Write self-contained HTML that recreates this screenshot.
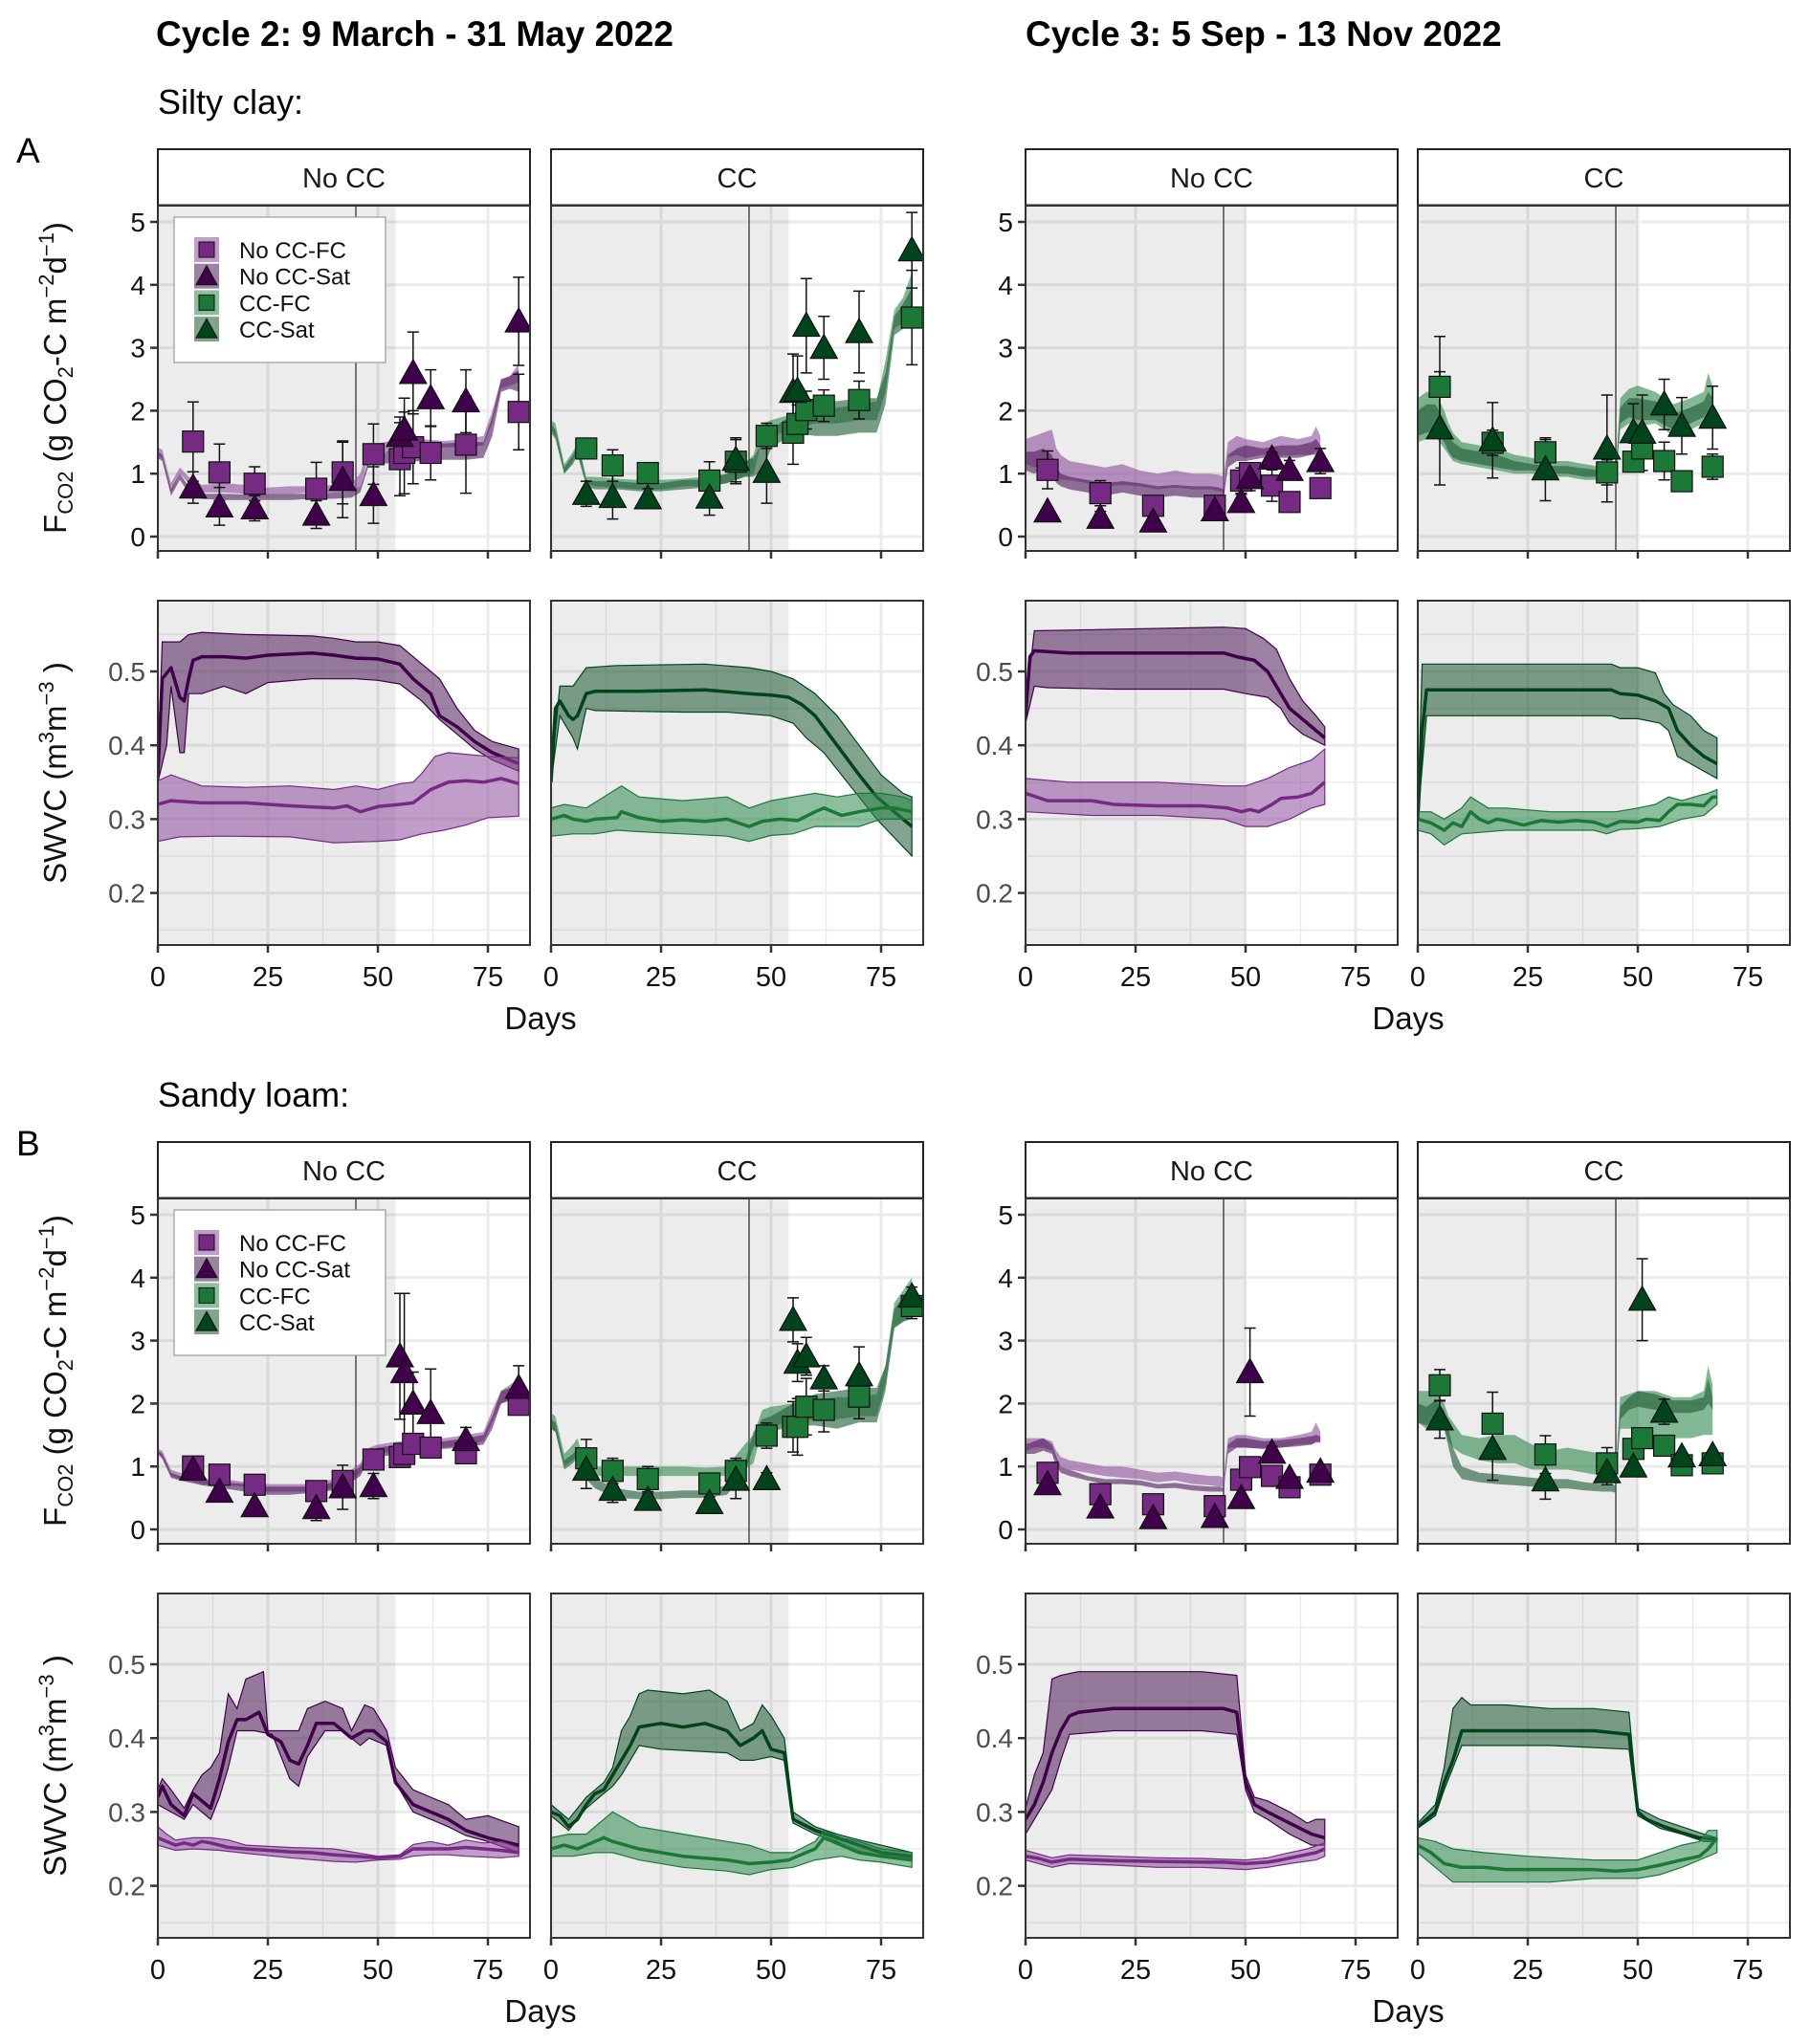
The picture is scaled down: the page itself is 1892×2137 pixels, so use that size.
<!DOCTYPE html>
<html><head><meta charset="utf-8"><title>CO2 flux and SWVC</title>
<style>
html,body{margin:0;padding:0;background:#fff;}
svg{display:block;font-family:"Liberation Sans",Arial,sans-serif;}
</style></head>
<body>
<svg id="fig" xmlns="http://www.w3.org/2000/svg" width="1892" height="2137" viewBox="0 0 1892 2137">
<rect x="0" y="0" width="1892" height="2137" fill="#fff"/>
<text x="163" y="48" font-size="37" font-weight="bold">Cycle 2: 9 March - 31 May 2022</text>
<text x="1072" y="48" font-size="37" font-weight="bold">Cycle 3: 5 Sep - 13 Nov 2022</text>
<text x="165" y="119" font-size="36">Silty clay:</text>
<text x="17" y="170" font-size="37">A</text>
<text x="165" y="1157" font-size="36">Sandy loam:</text>
<text x="17" y="1208" font-size="37">B</text>
<g id="plots"></g>
</svg>
<script>
// ---------------- FCO2 measured points ----------------
const daysC2 = [8,14,22,36,42,49,55,56,58,62,70,82];
const daysC3 = [5,17,29,43,49,51,56,60,67];
const a1FcVal = [1.51,1.02,0.84,0.76,1.02,1.31,1.23,1.33,1.42,1.33,1.46,1.98];
const a1FcErr = [0.63,0.45,0.27,0.42,0.5,0.48,0.58,0.65,0.58,0.43,0.77,0.6];
const a1SatVal = [0.78,0.48,0.45,0.35,0.9,0.66,1.6,1.7,2.6,2.2,2.15,3.42];
const a1SatErr = [0.25,0.3,0.2,0.22,0.6,0.45,0.3,0.5,0.65,0.45,0.5,0.7];
const a2FcVal = [1.40,1.13,1.01,0.89,1.19,1.6,1.65,1.79,2.01,2.08,2.17,3.48];
const a2FcErr = [0.05,0.25,0.15,0.3,0.35,0.2,0.5,0.3,0.3,0.25,0.3,0.75];
const a2SatVal = [0.68,0.63,0.61,0.62,1.22,1.03,2.3,2.32,3.35,3.0,3.25,4.55];
const a2SatErr = [0.2,0.35,0.15,0.28,0.35,0.5,0.6,0.55,0.75,0.5,0.65,0.6];
const a3FcVal = [1.06,0.69,0.49,0.49,0.89,1.01,0.81,0.55,0.77];
const a3FcErr = [0.3,0.2,0.15,0.1,0.2,0.15,0.25,0.1,0.15];
const a3SatVal = [0.4,0.3,0.24,0.42,0.55,0.93,1.24,1.06,1.2];
const a3SatErr = [0.05,0.1,0.1,0.05,0.12,0.2,0.1,0.15,0.2];
const a4FcVal = [2.38,1.49,1.34,1.02,1.19,1.4,1.2,0.88,1.11];
const a4FcErr = [0.8,0.2,0.2,0.2,0.15,0.15,0.3,0.15,0.2];
const a4SatVal = [1.72,1.53,1.07,1.4,1.66,1.65,2.1,1.76,1.89];
const a4SatErr = [0.9,0.6,0.5,0.85,0.45,0.6,0.4,0.45,0.5];
const b1FcVal = [1.0,0.87,0.71,0.61,0.77,1.11,1.15,1.2,1.36,1.3,1.21,1.98];
const b1FcErr = [0.1,0.15,0.05,0.1,0.15,0.1,0.1,0.1,0.1,0.1,0.1,0.15];
const b1SatVal = [0.95,0.6,0.37,0.34,0.67,0.69,2.75,2.5,2.0,1.85,1.42,2.25];
const b1SatErr = [0.1,0.1,0.05,0.2,0.35,0.2,1.0,1.25,0.5,0.7,0.2,0.35];
const b2FcVal = [1.13,0.93,0.8,0.73,0.93,1.49,1.63,1.63,1.95,1.9,2.11,3.55];
const b2FcErr = [0.3,0.2,0.2,0.15,0.2,0.2,0.4,0.45,0.45,0.35,0.35,0.2];
const b2SatVal = [0.95,0.63,0.47,0.42,0.79,0.8,3.33,2.65,2.75,2.4,2.45,3.7];
const b2SatErr = [0.3,0.2,0.1,0.1,0.3,0.1,0.35,0.3,0.3,0.2,0.45,0.15];
const b3FcVal = [0.9,0.56,0.4,0.37,0.79,0.99,0.85,0.67,0.87];
const b3FcErr = [0.05,0.05,0.05,0.05,0.05,0.05,0.05,0.05,0.05];
const b3SatVal = [0.72,0.35,0.18,0.2,0.5,2.5,1.22,0.82,0.92];
const b3SatErr = [0.05,0.1,0.05,0.05,0.05,0.7,0.1,0.05,0.05];
const b4FcVal = [2.29,1.68,1.19,1.05,1.28,1.45,1.33,1.02,1.05];
const b4FcErr = [0.25,0.5,0.3,0.25,0.05,0.05,0.05,0.05,0.05];
const b4SatVal = [1.75,1.28,0.78,0.91,1.0,3.65,1.87,1.16,1.18];
const b4SatErr = [0.3,0.5,0.3,0.2,0.15,0.65,0.2,0.05,0.05];

// ---------------- FCO2 model ribbons ----------------
const rDaysNo2 = [0,1,3,5,7,10,15,20,25,30,35,40,44,46,48,50,55,60,65,70,74,76,78,80,82];
const rDaysCC2 = [0,1,3,5,6,7,8,10,15,20,25,30,35,40,44,46,48,50,55,60,65,70,74,76,78,80,82];
const rDays3 = [0,2,4,6,7,8,10,14,18,22,26,30,34,38,42,44,45,46,48,50,54,58,62,65,66,67];
const a1FcLo = [1.3,1.25,0.7,1.0,0.85,0.7,0.7,0.68,0.68,0.68,0.7,0.7,0.72,0.8,1.3,1.32,1.38,1.4,1.42,1.42,1.45,1.8,2.35,2.4,2.45];
const a1FcHi = [1.42,1.38,0.85,1.1,0.95,0.82,0.85,0.82,0.78,0.8,0.8,0.82,0.85,1.0,1.45,1.48,1.55,1.55,1.52,1.55,1.6,2.0,2.5,2.55,2.75];
const a1SatLo = [1.25,1.2,0.65,0.9,0.7,0.6,0.58,0.58,0.58,0.58,0.6,0.6,0.62,0.7,1.15,1.15,1.18,1.2,1.22,1.22,1.25,1.6,2.3,2.35,2.3];
const a1SatHi = [1.35,1.3,0.75,1.0,0.8,0.68,0.68,0.67,0.68,0.68,0.68,0.7,0.72,0.8,1.25,1.3,1.42,1.45,1.48,1.5,1.5,1.9,2.5,2.55,2.65];
const a2FcLo = [1.7,1.6,1.0,1.2,1.35,1.1,0.85,0.8,0.78,0.75,0.75,0.8,0.8,0.85,0.95,1.0,1.55,1.6,1.7,1.8,1.8,1.85,1.85,2.3,3.3,3.4,3.5];
const a2FcHi = [1.85,1.8,1.15,1.35,1.5,1.25,0.95,0.95,0.92,0.9,0.9,0.92,0.95,1.0,1.15,1.3,1.8,1.85,1.95,2.05,2.05,2.1,2.15,2.8,3.6,3.8,4.2];
const a2SatLo = [1.65,1.55,1.0,1.15,1.3,1.05,0.8,0.75,0.75,0.72,0.72,0.75,0.78,0.85,0.95,0.95,1.05,1.4,1.65,1.6,1.6,1.65,1.65,2.1,3.2,3.3,3.4];
const a2SatHi = [1.8,1.7,1.1,1.3,1.45,1.2,0.9,0.88,0.88,0.85,0.85,0.9,0.9,1.0,1.2,1.25,1.5,1.7,1.95,2.2,2.15,2.2,2.2,2.6,3.5,3.7,3.95];
const a3FcLo = [1.15,1.1,1.15,1.2,1.0,0.9,0.9,0.85,0.8,0.82,0.8,0.75,0.78,0.75,0.75,0.72,0.72,1.25,1.3,1.25,1.3,1.28,1.3,1.3,1.35,1.3];
const a3FcHi = [1.55,1.6,1.65,1.7,1.4,1.3,1.2,1.15,1.1,1.15,1.05,1.0,1.05,1.0,1.0,0.98,0.95,1.5,1.6,1.55,1.5,1.6,1.55,1.6,1.75,1.6];
const a3SatLo = [1.05,1.0,1.1,1.0,0.85,0.8,0.75,0.7,0.65,0.7,0.65,0.62,0.65,0.62,0.62,0.62,0.6,1.1,1.2,1.2,1.25,1.25,1.25,1.3,1.3,1.25];
const a3SatHi = [1.35,1.35,1.4,1.3,1.1,1.0,0.95,0.9,0.85,0.88,0.85,0.8,0.82,0.8,0.8,0.78,0.75,1.3,1.4,1.45,1.4,1.45,1.45,1.5,1.55,1.45];
const a4FcLo = [1.5,1.55,1.6,1.4,1.3,1.2,1.15,1.1,1.05,1.0,1.0,0.95,0.95,0.9,0.9,0.9,0.88,1.7,1.8,1.75,1.8,1.6,1.7,1.8,1.9,1.8];
const a4FcHi = [2.2,2.3,2.3,2.0,1.8,1.65,1.5,1.45,1.4,1.3,1.25,1.2,1.2,1.15,1.1,1.1,1.1,2.2,2.35,2.4,2.3,2.1,2.2,2.3,2.6,2.4];
const a4SatLo = [1.6,1.65,1.7,1.5,1.35,1.25,1.2,1.15,1.1,1.05,1.05,1.0,1.0,0.95,0.95,0.92,0.9,1.8,1.9,1.85,1.85,1.7,1.8,1.9,2.0,1.9];
const a4SatHi = [2.0,2.1,2.1,1.85,1.65,1.5,1.4,1.35,1.3,1.2,1.15,1.12,1.12,1.08,1.05,1.02,1.0,2.05,2.2,2.2,2.15,1.95,2.05,2.15,2.3,2.2];
const b1FcLo = [1.2,1.15,0.85,0.8,0.78,0.72,0.7,0.68,0.6,0.6,0.6,0.65,0.8,0.9,1.15,1.2,1.25,1.3,1.3,1.35,1.4,1.7,2.0,2.05,2.0];
const b1FcHi = [1.28,1.25,0.95,0.9,0.85,0.8,0.8,0.75,0.72,0.72,0.72,0.8,0.95,1.05,1.3,1.35,1.4,1.45,1.45,1.5,1.55,1.9,2.2,2.3,2.4];
const b1SatLo = [1.2,1.12,0.82,0.78,0.75,0.7,0.65,0.6,0.55,0.55,0.58,0.62,0.75,0.85,1.1,1.15,1.2,1.28,1.28,1.3,1.35,1.6,2.0,2.05,2.0];
const b1SatHi = [1.25,1.2,0.9,0.85,0.82,0.78,0.75,0.72,0.68,0.68,0.68,0.75,0.9,1.0,1.25,1.3,1.35,1.4,1.4,1.45,1.5,1.8,2.2,2.25,2.3];
const b2FcLo = [1.6,1.55,1.0,1.1,1.2,0.95,0.85,0.85,0.85,0.85,0.85,0.85,0.85,0.85,0.95,1.05,1.6,1.65,1.7,1.75,1.75,1.8,1.8,2.3,3.2,3.3,3.4];
const b2FcHi = [1.85,1.8,1.2,1.35,1.45,1.2,1.05,1.0,1.0,1.0,1.0,1.0,0.98,1.0,1.35,1.5,1.9,1.95,2.0,2.05,2.1,2.1,2.15,2.6,3.6,3.8,4.0];
const b2SatLo = [1.6,1.55,0.95,1.05,1.15,0.9,0.8,0.65,0.5,0.48,0.48,0.5,0.5,0.55,0.9,1.3,1.5,1.55,1.65,1.65,1.6,1.7,1.7,2.2,3.2,3.3,3.35];
const b2SatHi = [1.75,1.7,1.1,1.2,1.3,1.05,0.95,0.8,0.65,0.6,0.6,0.62,0.62,0.7,1.05,1.55,1.75,1.8,2.0,2.15,2.2,2.25,2.25,2.6,3.5,3.7,3.9];
const b3FcLo = [1.25,1.3,1.3,1.25,1.1,1.0,0.95,0.9,0.85,0.82,0.8,0.75,0.78,0.72,0.7,0.68,0.68,1.3,1.3,1.3,1.28,1.3,1.35,1.35,1.4,1.4];
const b3FcHi = [1.45,1.45,1.45,1.4,1.25,1.15,1.1,1.05,1.0,1.0,0.95,0.9,0.92,0.88,0.85,0.85,0.82,1.45,1.5,1.5,1.45,1.45,1.5,1.55,1.7,1.55];
const b3SatLo = [1.2,1.2,1.25,1.2,1.0,0.9,0.85,0.78,0.72,0.72,0.7,0.65,0.66,0.62,0.6,0.6,0.6,1.2,1.3,1.3,1.28,1.3,1.32,1.35,1.38,1.38];
const b3SatHi = [1.35,1.4,1.45,1.35,1.15,1.0,0.95,0.85,0.8,0.8,0.78,0.72,0.74,0.7,0.68,0.68,0.66,1.35,1.45,1.45,1.4,1.42,1.45,1.48,1.5,1.48];
const b4FcLo = [1.7,1.6,1.7,1.6,1.4,1.3,1.2,1.1,1.05,1.05,0.95,0.95,0.95,0.9,0.85,0.85,0.8,1.6,1.6,1.6,1.5,1.45,1.45,1.5,1.5,1.5];
const b4FcHi = [2.2,2.2,2.2,2.0,1.8,1.7,1.5,1.45,1.5,1.5,1.35,1.25,1.3,1.25,1.2,1.15,1.05,2.1,2.15,2.2,2.2,2.1,2.1,2.2,2.6,2.3];
const b4SatLo = [1.7,1.65,1.75,1.6,1.3,1.0,0.8,0.75,0.72,0.7,0.68,0.65,0.65,0.62,0.6,0.6,0.58,1.75,1.9,1.95,1.9,1.85,1.85,1.9,2.0,1.9];
const b4SatHi = [2.0,1.95,2.05,1.9,1.6,1.3,1.0,0.9,0.88,0.85,0.82,0.8,0.8,0.75,0.72,0.72,0.7,1.95,2.1,2.2,2.15,2.05,2.05,2.1,2.4,2.1];

// ---------------- SWVC series ([day, value]) ----------------
const swA1SatMean = [[0,.36],[1,.49],[3,.505],[5,.465],[6,.46],[7,.49],[8,.515],[10,.52],[15,.52],[20,.518],[25,.522],[35,.525],[40,.522],[45,.518],[50,.517],[55,.51],[58,.49],[62,.47],[64,.44],[68,.425],[72,.405],[76,.39],[82,.375]];
const swA1SatLo = [[0,.35],[2,.4],[3,.48],[5,.39],[6,.39],[7,.47],[10,.47],[15,.48],[20,.47],[25,.485],[35,.49],[45,.49],[50,.488],[55,.483],[60,.46],[64,.435],[68,.415],[72,.395],[76,.38],[82,.365]];
const swA1SatHi = [[0,.37],[1,.54],[5,.54],[7,.55],[10,.553],[20,.55],[35,.548],[40,.545],[45,.54],[50,.54],[55,.535],[58,.52],[62,.5],[64,.49],[68,.45],[72,.42],[76,.405],[82,.395]];
const swA1FcMean = [[0,.32],[3,.325],[10,.322],[20,.322],[30,.318],[40,.315],[43,.318],[46,.31],[50,.317],[55,.32],[58,.322],[62,.34],[66,.35],[70,.352],[74,.35],[78,.355],[82,.348]];
const swA1FcLo = [[0,.27],[5,.276],[15,.277],[30,.276],[40,.268],[50,.27],[55,.272],[60,.28],[65,.285],[70,.292],[75,.302],[82,.304]];
const swA1FcHi = [[0,.352],[3,.36],[10,.345],[20,.343],[30,.345],[40,.34],[45,.345],[50,.34],[55,.348],[58,.35],[60,.362],[63,.385],[66,.39],[75,.385],[82,.383]];
const swA2SatMean = [[0,.35],[1,.45],[2,.46],[4,.44],[5,.435],[6,.44],[8,.47],[10,.473],[20,.473],[35,.475],[45,.47],[50,.468],[54,.465],[57,.455],[60,.44],[65,.4],[70,.36],[74,.33],[78,.31],[82,.29]];
const swA2SatLo = [[0,.35],[2,.44],[5,.41],[6,.395],[8,.45],[10,.447],[30,.445],[40,.445],[50,.44],[55,.43],[58,.41],[62,.39],[66,.36],[70,.33],[74,.3],[78,.275],[82,.25]];
const swA2SatHi = [[0,.36],[2,.48],[5,.48],[8,.505],[15,.508],[35,.51],[45,.505],[50,.5],[55,.49],[60,.47],[65,.44],[70,.4],[75,.36],[80,.335],[82,.33]];
const swA2FcMean = [[0,.3],[3,.305],[5,.3],[8,.297],[10,.3],[15,.302],[16,.31],[20,.302],[25,.297],[30,.299],[35,.297],[40,.3],[45,.29],[48,.297],[52,.3],[56,.298],[60,.31],[62,.315],[66,.305],[70,.31],[75,.315],[78,.315],[82,.31]];
const swA2FcLo = [[0,.277],[5,.28],[10,.28],[15,.285],[20,.283],[30,.28],[40,.277],[45,.27],[50,.278],[55,.28],[60,.29],[65,.29],[70,.29],[75,.3],[82,.3]];
const swA2FcHi = [[0,.315],[3,.32],[8,.315],[12,.33],[16,.345],[20,.33],[30,.325],[40,.33],[45,.315],[50,.325],[55,.33],[60,.335],[65,.33],[70,.335],[75,.335],[80,.33],[82,.325]];
const swA3SatMean = [[0,.44],[1,.52],[2,.528],[10,.525],[20,.525],[30,.525],[45,.525],[48,.52],[52,.515],[55,.5],[58,.47],[60,.45],[62,.44],[65,.425],[68,.41]];
const swA3SatLo = [[0,.43],[2,.48],[5,.478],[20,.476],[45,.476],[50,.47],[55,.465],[58,.45],[60,.43],[63,.415],[68,.4]];
const swA3SatHi = [[0,.45],[2,.555],[45,.56],[50,.558],[54,.545],[57,.53],[60,.49],[63,.46],[66,.44],[68,.425]];
const swA3FcMean = [[0,.335],[5,.325],[15,.325],[20,.32],[30,.318],[40,.318],[46,.315],[49,.31],[51,.313],[53,.31],[56,.32],[58,.328],[62,.33],[65,.335],[68,.35]];
const swA3FcLo = [[0,.31],[15,.305],[30,.305],[45,.3],[50,.29],[55,.29],[60,.3],[65,.315],[68,.32]];
const swA3FcHi = [[0,.355],[10,.35],[30,.35],[45,.345],[50,.345],[55,.355],[60,.37],[65,.38],[68,.395]];
const swA4SatMean = [[0,.3],[1,.42],[2,.475],[10,.475],[20,.475],[30,.475],[44,.475],[46,.47],[50,.468],[54,.46],[57,.45],[59,.42],[62,.4],[65,.385],[68,.375]];
const swA4SatLo = [[0,.3],[2,.44],[10,.44],[30,.44],[44,.44],[46,.436],[50,.436],[55,.43],[57,.42],[59,.385],[62,.375],[65,.365],[68,.355]];
const swA4SatHi = [[0,.31],[1,.51],[10,.51],[30,.51],[44,.51],[46,.505],[50,.505],[54,.498],[56,.47],[58,.455],[62,.44],[65,.42],[68,.41]];
const swA4FcMean = [[0,.3],[3,.295],[6,.285],[8,.295],[10,.29],[12,.31],[14,.3],[16,.295],[18,.3],[20,.298],[24,.292],[28,.298],[32,.296],[36,.298],[40,.296],[43,.29],[46,.297],[50,.296],[52,.3],[55,.298],[57,.31],[59,.32],[62,.32],[65,.318],[67,.33],[68,.33]];
const swA4FcLo = [[0,.285],[3,.28],[6,.265],[10,.28],[20,.285],[30,.285],[40,.285],[43,.28],[46,.286],[50,.287],[55,.29],[60,.3],[65,.305],[68,.32]];
const swA4FcHi = [[0,.31],[3,.31],[6,.3],[10,.315],[12,.33],[16,.315],[20,.315],[30,.31],[40,.31],[45,.31],[50,.315],[54,.32],[57,.33],[60,.325],[64,.332],[66,.335],[68,.34]];
const swB1SatMean = [[0,.32],[1,.335],[3,.31],[6,.295],[8,.325],[12,.305],[14,.345],[16,.395],[18,.425],[20,.425],[23,.435],[25,.405],[28,.395],[30,.37],[32,.365],[34,.39],[36,.42],[40,.42],[44,.4],[47,.41],[49,.41],[52,.395],[54,.34],[58,.31],[62,.3],[66,.29],[70,.275],[75,.265],[82,.255]];
const swB1SatLo = [[0,.31],[3,.3],[6,.29],[8,.31],[12,.29],[14,.32],[16,.36],[18,.41],[22,.41],[26,.405],[30,.345],[32,.335],[34,.375],[38,.41],[42,.41],[46,.39],[48,.4],[52,.39],[54,.34],[58,.3],[62,.29],[66,.28],[70,.268],[75,.26],[82,.245]];
const swB1SatHi = [[0,.33],[1,.345],[3,.33],[6,.305],[8,.33],[10,.35],[12,.36],[14,.38],[16,.46],[18,.44],[20,.48],[24,.49],[25,.41],[28,.41],[32,.41],[34,.44],[38,.45],[42,.44],[44,.41],[47,.445],[49,.44],[52,.41],[54,.36],[58,.33],[62,.32],[66,.31],[70,.29],[75,.295],[82,.28]];
const swB1FcMean = [[0,.265],[2,.26],[4,.255],[6,.258],[8,.255],[10,.26],[12,.258],[14,.255],[16,.252],[20,.25],[25,.248],[30,.246],[35,.245],[40,.242],[45,.24],[50,.238],[55,.24],[58,.25],[62,.25],[66,.25],[70,.252],[74,.25],[78,.248],[82,.245]];
const swB1FcLo = [[0,.255],[4,.248],[8,.25],[14,.248],[20,.244],[30,.238],[40,.233],[45,.232],[50,.235],[55,.236],[58,.24],[62,.242],[66,.242],[70,.24],[78,.238],[82,.24]];
const swB1FcHi = [[0,.28],[2,.27],[4,.262],[8,.265],[12,.265],[16,.262],[20,.255],[30,.252],[40,.25],[45,.245],[50,.24],[55,.242],[58,.256],[62,.26],[66,.255],[70,.262],[74,.258],[78,.26],[82,.252]];
const swB2SatMean = [[0,.3],[2,.295],[4,.28],[6,.29],[8,.31],[10,.325],[12,.33],[14,.35],[16,.37],[18,.39],[20,.415],[25,.42],[30,.415],[35,.42],[40,.41],[43,.39],[46,.4],[48,.41],[50,.385],[53,.38],[55,.29],[60,.275],[65,.265],[70,.255],[75,.245],[82,.24]];
const swB2SatLo = [[0,.295],[4,.275],[8,.305],[12,.325],[14,.335],[16,.35],[18,.37],[20,.39],[25,.385],[40,.38],[43,.37],[46,.37],[50,.375],[53,.37],[55,.285],[60,.27],[65,.26],[70,.245],[75,.24],[82,.235]];
const swB2SatHi = [[0,.31],[4,.29],[8,.32],[12,.34],[14,.36],[16,.41],[18,.43],[20,.46],[22,.465],[30,.46],[36,.465],[40,.45],[43,.41],[46,.42],[48,.445],[50,.43],[53,.4],[55,.3],[60,.28],[65,.27],[70,.262],[75,.255],[82,.245]];
const swB2FcMean = [[0,.25],[3,.255],[6,.25],[8,.255],[10,.26],[12,.265],[14,.26],[20,.25],[30,.24],[40,.235],[45,.23],[50,.232],[54,.235],[56,.24],[60,.25],[62,.265],[66,.255],[70,.245],[75,.24],[82,.235]];
const swB2FcLo = [[0,.24],[5,.24],[10,.245],[14,.245],[20,.235],[30,.225],[40,.22],[45,.215],[50,.222],[55,.225],[60,.235],[66,.24],[70,.235],[75,.232],[82,.225]];
const swB2FcHi = [[0,.265],[4,.27],[8,.27],[12,.29],[14,.3],[20,.28],[30,.27],[40,.26],[45,.255],[50,.245],[55,.245],[60,.26],[62,.275],[66,.265],[70,.26],[75,.25],[82,.245]];
const swB3SatMean = [[0,.29],[2,.31],[4,.34],[6,.38],[8,.41],[10,.43],[12,.435],[20,.44],[30,.44],[40,.44],[45,.44],[48,.435],[50,.34],[52,.31],[55,.3],[60,.285],[65,.27],[68,.265]];
const swB3SatLo = [[0,.27],[3,.3],[6,.33],[8,.37],[10,.405],[20,.41],[40,.41],[48,.405],[50,.33],[52,.3],[55,.29],[60,.27],[65,.255],[68,.255]];
const swB3SatHi = [[0,.305],[2,.35],[4,.38],[6,.48],[8,.485],[12,.49],[30,.49],[40,.49],[48,.485],[50,.35],[52,.32],[55,.315],[60,.3],[64,.285],[66,.29],[68,.29]];
const swB3FcMean = [[0,.24],[3,.237],[6,.232],[10,.236],[15,.235],[20,.234],[30,.233],[40,.232],[45,.232],[50,.23],[55,.232],[58,.235],[62,.24],[66,.245],[68,.25]];
const swB3FcLo = [[0,.235],[6,.225],[10,.23],[20,.228],[30,.225],[40,.225],[50,.222],[55,.225],[60,.23],[66,.235],[68,.24]];
const swB3FcHi = [[0,.248],[6,.238],[10,.242],[20,.24],[30,.238],[40,.237],[50,.235],[55,.238],[60,.245],[64,.25],[68,.258]];
const swB4SatMean = [[0,.28],[2,.29],[4,.3],[6,.34],[8,.37],[10,.41],[12,.41],[20,.41],[30,.41],[40,.41],[48,.405],[50,.3],[52,.29],[56,.28],[60,.272],[64,.265],[68,.263]];
const swB4SatLo = [[0,.278],[4,.295],[6,.33],[8,.36],[10,.39],[20,.39],[30,.39],[48,.385],[50,.295],[55,.278],[60,.27],[65,.26],[68,.26]];
const swB4SatHi = [[0,.285],[4,.31],[6,.36],[8,.44],[10,.455],[12,.445],[20,.445],[30,.44],[40,.44],[48,.435],[50,.305],[55,.29],[60,.28],[65,.27],[68,.265]];
const swB4FcMean = [[0,.255],[3,.245],[6,.23],[10,.225],[15,.225],[20,.222],[30,.222],[40,.222],[45,.22],[50,.222],[55,.228],[60,.235],[64,.24],[66,.25],[68,.265]];
const swB4FcLo = [[0,.245],[4,.225],[8,.205],[15,.205],[30,.205],[40,.21],[50,.21],[55,.215],[60,.225],[66,.24],[68,.245]];
const swB4FcHi = [[0,.265],[4,.26],[8,.25],[15,.245],[25,.24],[40,.235],[50,.235],[55,.245],[60,.255],[64,.26],[66,.275],[68,.275]];

const fluxTicks = [0,1,2,3,4,5];
const swvcTicks = [0.2,0.3,0.4,0.5];
const swvcTickLabels = ["0.2","0.3","0.4","0.5"];
const dayTicks = [0,25,50,75];
const legendLabels = ["No CC-FC","No CC-Sat","CC-FC","CC-Sat"];

// ---------------- drawing ----------------
const NS = "http://www.w3.org/2000/svg";
const root = document.getElementById("plots");
function mk(tag, attrs, parent) {
  const e = document.createElementNS(NS, tag);
  for (const k in attrs) e.setAttribute(k, attrs[k]);
  (parent || root).appendChild(e);
  return e;
}
const COL = {
  no: {fc: "#762a83", sat: "#40004b", fcRib: "#8e4f9c", satRib: "#4f1b5a"},
  cc: {fc: "#1b7837", sat: "#00441b", fcRib: "#2e8a4c", satRib: "#1c5a33"}
};
const colLefts = [165, 576, 1072, 1482];
const PW = 389, PXD = 4.6;
const rowOff = [0, 1038];

function xScale(col) { return d => colLefts[col] + d * PXD; }
function fluxY(row) { return v => 561 + rowOff[row] - 65.8 * v; }
function swY(row) { return v => 702 + rowOff[row] - (v - 0.5) * 772; }

function ribbonPath(days, lo, hi, xs, ys) {
  let p = "";
  for (let i = 0; i < days.length; i++) p += (i ? "L" : "M") + xs(days[i]).toFixed(1) + "," + ys(hi[i]).toFixed(1);
  for (let i = days.length - 1; i >= 0; i--) p += "L" + xs(days[i]).toFixed(1) + "," + ys(lo[i]).toFixed(1);
  return p + "Z";
}
function pairRibbon(lo, hi, xs, ys) {
  let p = "";
  hi.forEach((q, i) => { p += (i ? "L" : "M") + xs(q[0]).toFixed(1) + "," + ys(q[1]).toFixed(1); });
  for (let i = lo.length - 1; i >= 0; i--) p += "L" + xs(lo[i][0]).toFixed(1) + "," + ys(lo[i][1]).toFixed(1);
  return p + "Z";
}
function pairLine(arr, xs, ys) {
  return arr.map((q, i) => (i ? "L" : "M") + xs(q[0]).toFixed(1) + "," + ys(q[1]).toFixed(1)).join("");
}
function square(g, cx, cy, fill, name) {
  const r = mk("rect", {x: cx - 11, y: cy - 11, width: 22, height: 22, fill: fill, stroke: "#111", "stroke-width": 1.2}, g);
  
  
}
function triangle(g, cx, cy, fill, name) {
  const t = mk("polygon", {points: (cx - 14) + "," + (cy + 11) + " " + (cx + 14) + "," + (cy + 11) + " " + cx + "," + (cy - 14), fill: fill, stroke: "#111", "stroke-width": 1.2}, g);
  
  
}

function panelFrame(col, top, bottom, shadeEnd, name) {
  const g = mk("g", {});
  
  
  const clipId = "clip-" + name;
  const cp = mk("clipPath", {id: clipId}, g);
  mk("rect", {x: colLefts[col], y: top, width: PW, height: bottom - top}, cp);
  const inner = mk("g", {"clip-path": "url(#" + clipId + ")"}, g);
  return {g, inner};
}

function drawFluxPanel(row, col, cfg) {
  const xs = xScale(col), ys = fluxY(row);
  const top = 215 + rowOff[row], bottom = 576 + rowOff[row], L = colLefts[col];
  // strip
  const strip = mk("g", {});
  
  
  mk("rect", {x: L, y: 156 + rowOff[row], width: PW, height: 59, fill: "#fff", stroke: "#222", "stroke-width": 2}, strip);
  mk("line", {x1: L, x2: L + PW, y1: top, y2: top, stroke: "#222", "stroke-width": 3}, strip);
  const st = mk("text", {x: L + PW / 2, y: 196 + rowOff[row], "font-size": 29, "text-anchor": "middle", fill: "#1a1a1a"}, strip);
  st.textContent = col % 2 ? "CC" : "No CC";
  const {g, inner} = panelFrame(col, top, bottom, cfg.shade, "flux-panel-r" + row + "-c" + col);
  mk("rect", {x: L, y: top, width: PW, height: bottom - top, fill: "#fff"}, inner);
  fluxTicks.forEach(v => mk("line", {x1: L, x2: L + PW, y1: ys(v), y2: ys(v), stroke: "#ebebeb", "stroke-width": 3}, inner));
  dayTicks.forEach(d => mk("line", {x1: xs(d), x2: xs(d), y1: top, y2: bottom, stroke: "#ebebeb", "stroke-width": 3}, inner));
  const sh = mk("rect", {x: L, y: top, width: cfg.shade * PXD, height: bottom - top, fill: "#000", "fill-opacity": 0.075}, inner);
  
  
  const vl = mk("line", {x1: xs(45), x2: xs(45), y1: top, y2: bottom, stroke: "#333", "stroke-width": 1.3}, inner);
  
  
  const c = col % 2 ? COL.cc : COL.no;
  const r1 = mk("path", {d: ribbonPath(cfg.rd, cfg.fcLo, cfg.fcHi, xs, ys), fill: c.fcRib, "fill-opacity": 0.6}, inner);
  
  
  const r2 = mk("path", {d: ribbonPath(cfg.rd, cfg.satLo, cfg.satHi, xs, ys), fill: c.satRib, "fill-opacity": 0.6}, inner);
  
  
  // error bars
  const eb = mk("g", {stroke: "#111", "stroke-width": 1.5, fill: "none"}, inner);
  
  
  [[cfg.fcVal, cfg.fcErr], [cfg.satVal, cfg.satErr]].forEach(([vals, errs]) => {
    cfg.days.forEach((d, i) => {
      const x = xs(d), y1 = ys(vals[i] - errs[i]), y2 = ys(vals[i] + errs[i]);
      mk("path", {d: "M" + x + "," + y1 + "V" + y2 + "M" + (x - 6) + "," + y1 + "H" + (x + 6) + "M" + (x - 6) + "," + y2 + "H" + (x + 6)}, eb);
    });
  });
  cfg.days.forEach((d, i) => square(inner, xs(d), ys(cfg.fcVal[i]), c.fc, "fc-point"));
  cfg.days.forEach((d, i) => triangle(inner, xs(d), ys(cfg.satVal[i]), c.sat, "sat-point"));
  mk("rect", {x: L, y: top, width: PW, height: bottom - top, fill: "none", stroke: "#333", "stroke-width": 2}, g);
  // axes ticks
  dayTicks.forEach(d => mk("line", {x1: xs(d), x2: xs(d), y1: bottom, y2: bottom + 8, stroke: "#333", "stroke-width": 2.5}, g));
  if (col % 2 === 0) {
    fluxTicks.forEach(v => {
      mk("line", {x1: L - 8, x2: L, y1: ys(v), y2: ys(v), stroke: "#333", "stroke-width": 2.5}, g);
      const t = mk("text", {x: L - 13, y: ys(v) + 10, "font-size": 28, "text-anchor": "end", fill: "#111"}, g);
      
      
      t.textContent = String(v);
    });
  }
}

function drawSwvcPanel(row, col, cfg) {
  const xs = xScale(col), ys = swY(row);
  const top = 628 + rowOff[row], bottom = 988 + rowOff[row], L = colLefts[col];
  const {g, inner} = panelFrame(col, top, bottom, cfg.shade, "swvc-panel-r" + row + "-c" + col);
  mk("rect", {x: L, y: top, width: PW, height: bottom - top, fill: "#fff"}, inner);
  [0.15, 0.25, 0.35, 0.45, 0.55].forEach(v => mk("line", {x1: L, x2: L + PW, y1: ys(v), y2: ys(v), stroke: "#ebebeb", "stroke-width": 1.5}, inner));
  [12.5, 37.5, 62.5].forEach(d => mk("line", {x1: xs(d), x2: xs(d), y1: top, y2: bottom, stroke: "#ebebeb", "stroke-width": 1.5}, inner));
  swvcTicks.forEach(v => mk("line", {x1: L, x2: L + PW, y1: ys(v), y2: ys(v), stroke: "#ebebeb", "stroke-width": 3}, inner));
  dayTicks.forEach(d => mk("line", {x1: xs(d), x2: xs(d), y1: top, y2: bottom, stroke: "#ebebeb", "stroke-width": 3}, inner));
  const sh = mk("rect", {x: L, y: top, width: cfg.shade * PXD, height: bottom - top, fill: "#000", "fill-opacity": 0.075}, inner);
  
  
  const c = col % 2 ? COL.cc : COL.no;
  [["sat", cfg.satLo, cfg.satHi, cfg.satMean, c.sat, c.satRib], ["fc", cfg.fcLo, cfg.fcHi, cfg.fcMean, c.fc, c.fcRib]].forEach(([nm, lo, hi, mean, lc, rc]) => {
    const rb = mk("path", {d: pairRibbon(lo, hi, xs, ys), fill: rc, "fill-opacity": 0.55, stroke: lc, "stroke-width": 1.2}, inner);
    
    
    const ln = mk("path", {d: pairLine(mean, xs, ys), fill: "none", stroke: lc, "stroke-width": 3.5, "stroke-linejoin": "round"}, inner);
    
    
  });
  mk("rect", {x: L, y: top, width: PW, height: bottom - top, fill: "none", stroke: "#333", "stroke-width": 2}, g);
  dayTicks.forEach(d => {
    mk("line", {x1: xs(d), x2: xs(d), y1: bottom, y2: bottom + 8, stroke: "#333", "stroke-width": 2.5}, g);
    const t = mk("text", {x: xs(d), y: bottom + 43, "font-size": 29, "text-anchor": "middle", fill: "#111"}, g);
    
    
    t.textContent = String(d);
  });
  if (col % 2 === 0) {
    swvcTicks.forEach((v, i) => {
      mk("line", {x1: L - 8, x2: L, y1: ys(v), y2: ys(v), stroke: "#333", "stroke-width": 2.5}, g);
      const t = mk("text", {x: L - 13, y: ys(v) + 10, "font-size": 28, "text-anchor": "end", fill: "#4d4d4d"}, g);
      
      
      t.textContent = swvcTickLabels[i];
    });
  }
}

const fluxCfg = [
  [0,0,{shade:54,rd:rDaysNo2,fcLo:a1FcLo,fcHi:a1FcHi,satLo:a1SatLo,satHi:a1SatHi,days:daysC2,fcVal:a1FcVal,fcErr:a1FcErr,satVal:a1SatVal,satErr:a1SatErr}],
  [0,1,{shade:54,rd:rDaysCC2,fcLo:a2FcLo,fcHi:a2FcHi,satLo:a2SatLo,satHi:a2SatHi,days:daysC2,fcVal:a2FcVal,fcErr:a2FcErr,satVal:a2SatVal,satErr:a2SatErr}],
  [0,2,{shade:50,rd:rDays3,fcLo:a3FcLo,fcHi:a3FcHi,satLo:a3SatLo,satHi:a3SatHi,days:daysC3,fcVal:a3FcVal,fcErr:a3FcErr,satVal:a3SatVal,satErr:a3SatErr}],
  [0,3,{shade:50,rd:rDays3,fcLo:a4FcLo,fcHi:a4FcHi,satLo:a4SatLo,satHi:a4SatHi,days:daysC3,fcVal:a4FcVal,fcErr:a4FcErr,satVal:a4SatVal,satErr:a4SatErr}],
  [1,0,{shade:54,rd:rDaysNo2,fcLo:b1FcLo,fcHi:b1FcHi,satLo:b1SatLo,satHi:b1SatHi,days:daysC2,fcVal:b1FcVal,fcErr:b1FcErr,satVal:b1SatVal,satErr:b1SatErr}],
  [1,1,{shade:54,rd:rDaysCC2,fcLo:b2FcLo,fcHi:b2FcHi,satLo:b2SatLo,satHi:b2SatHi,days:daysC2,fcVal:b2FcVal,fcErr:b2FcErr,satVal:b2SatVal,satErr:b2SatErr}],
  [1,2,{shade:50,rd:rDays3,fcLo:b3FcLo,fcHi:b3FcHi,satLo:b3SatLo,satHi:b3SatHi,days:daysC3,fcVal:b3FcVal,fcErr:b3FcErr,satVal:b3SatVal,satErr:b3SatErr}],
  [1,3,{shade:50,rd:rDays3,fcLo:b4FcLo,fcHi:b4FcHi,satLo:b4SatLo,satHi:b4SatHi,days:daysC3,fcVal:b4FcVal,fcErr:b4FcErr,satVal:b4SatVal,satErr:b4SatErr}]
];
const swCfg = [
  [0,0,{shade:54,satMean:swA1SatMean,satLo:swA1SatLo,satHi:swA1SatHi,fcMean:swA1FcMean,fcLo:swA1FcLo,fcHi:swA1FcHi}],
  [0,1,{shade:54,satMean:swA2SatMean,satLo:swA2SatLo,satHi:swA2SatHi,fcMean:swA2FcMean,fcLo:swA2FcLo,fcHi:swA2FcHi}],
  [0,2,{shade:50,satMean:swA3SatMean,satLo:swA3SatLo,satHi:swA3SatHi,fcMean:swA3FcMean,fcLo:swA3FcLo,fcHi:swA3FcHi}],
  [0,3,{shade:50,satMean:swA4SatMean,satLo:swA4SatLo,satHi:swA4SatHi,fcMean:swA4FcMean,fcLo:swA4FcLo,fcHi:swA4FcHi}],
  [1,0,{shade:54,satMean:swB1SatMean,satLo:swB1SatLo,satHi:swB1SatHi,fcMean:swB1FcMean,fcLo:swB1FcLo,fcHi:swB1FcHi}],
  [1,1,{shade:54,satMean:swB2SatMean,satLo:swB2SatLo,satHi:swB2SatHi,fcMean:swB2FcMean,fcLo:swB2FcLo,fcHi:swB2FcHi}],
  [1,2,{shade:50,satMean:swB3SatMean,satLo:swB3SatLo,satHi:swB3SatHi,fcMean:swB3FcMean,fcLo:swB3FcLo,fcHi:swB3FcHi}],
  [1,3,{shade:50,satMean:swB4SatMean,satLo:swB4SatLo,satHi:swB4SatHi,fcMean:swB4FcMean,fcLo:swB4FcLo,fcHi:swB4FcHi}]
];
fluxCfg.forEach(([r, c, cfg]) => drawFluxPanel(r, c, cfg));
swCfg.forEach(([r, c, cfg]) => drawSwvcPanel(r, c, cfg));

// legends, axis titles, Days labels
[0, 1].forEach(row => {
  const off = rowOff[row];
  const lg = mk("g", {});
  
  
  mk("rect", {x: 182, y: 227 + off, width: 221, height: 152, fill: "#fff", stroke: "#999", "stroke-width": 1.2}, lg);
  const keys = [[COL.no.fc, COL.no.fcRib, "sq"], [COL.no.sat, COL.no.satRib, "tri"], [COL.cc.fc, COL.cc.fcRib, "sq"], [COL.cc.sat, COL.cc.satRib, "tri"]];
  keys.forEach((k, i) => {
    const cy = 261 + off + i * 27.7;
    const e = mk("g", {}, lg);
    
    
    mk("rect", {x: 203, y: cy - 13, width: 26, height: 26, fill: k[1], "fill-opacity": 0.55}, e);
    if (k[2] === "sq") mk("rect", {x: 208, y: cy - 8, width: 16, height: 16, fill: k[0], stroke: "#111", "stroke-width": 1}, e);
    else mk("polygon", {points: "205," + (cy + 9) + " 227," + (cy + 9) + " 216," + (cy - 11), fill: k[0], stroke: "#111", "stroke-width": 1}, e);
    const t = mk("text", {x: 250, y: cy + 9, "font-size": 24, fill: "#111"}, e);
    t.textContent = legendLabels[i];
  });
  // y titles
  const fy = 395 + off;
  const ft = mk("text", {x: 0, y: 0, "font-size": 33, "text-anchor": "middle", fill: "#111", transform: "translate(69," + fy + ") rotate(-90)"});
  
  
  ft.innerHTML = 'F<tspan font-size="22" dy="7">CO2</tspan><tspan dy="-7"> (g CO</tspan><tspan font-size="22" dy="7">2</tspan><tspan dy="-7">-C m</tspan><tspan font-size="22" dy="-13">−2</tspan><tspan dy="13">d</tspan><tspan font-size="22" dy="-13">−1</tspan><tspan dy="13">)</tspan>';
  const sy = 808 + off;
  const stt = mk("text", {x: 0, y: 0, "font-size": 33, "text-anchor": "middle", fill: "#111", transform: "translate(69," + sy + ") rotate(-90)"});
  
  
  stt.innerHTML = 'SWVC (m<tspan font-size="22" dy="-13">3</tspan><tspan dy="13">m</tspan><tspan font-size="22" dy="-13">−3</tspan><tspan dy="13"> )</tspan>';
  [565, 1472].forEach(x => {
    const d = mk("text", {x: x, y: 1076 + off, "font-size": 33, "text-anchor": "middle", fill: "#111"});
    
    
    d.textContent = "Days";
  });
});
</script>
</body></html>
